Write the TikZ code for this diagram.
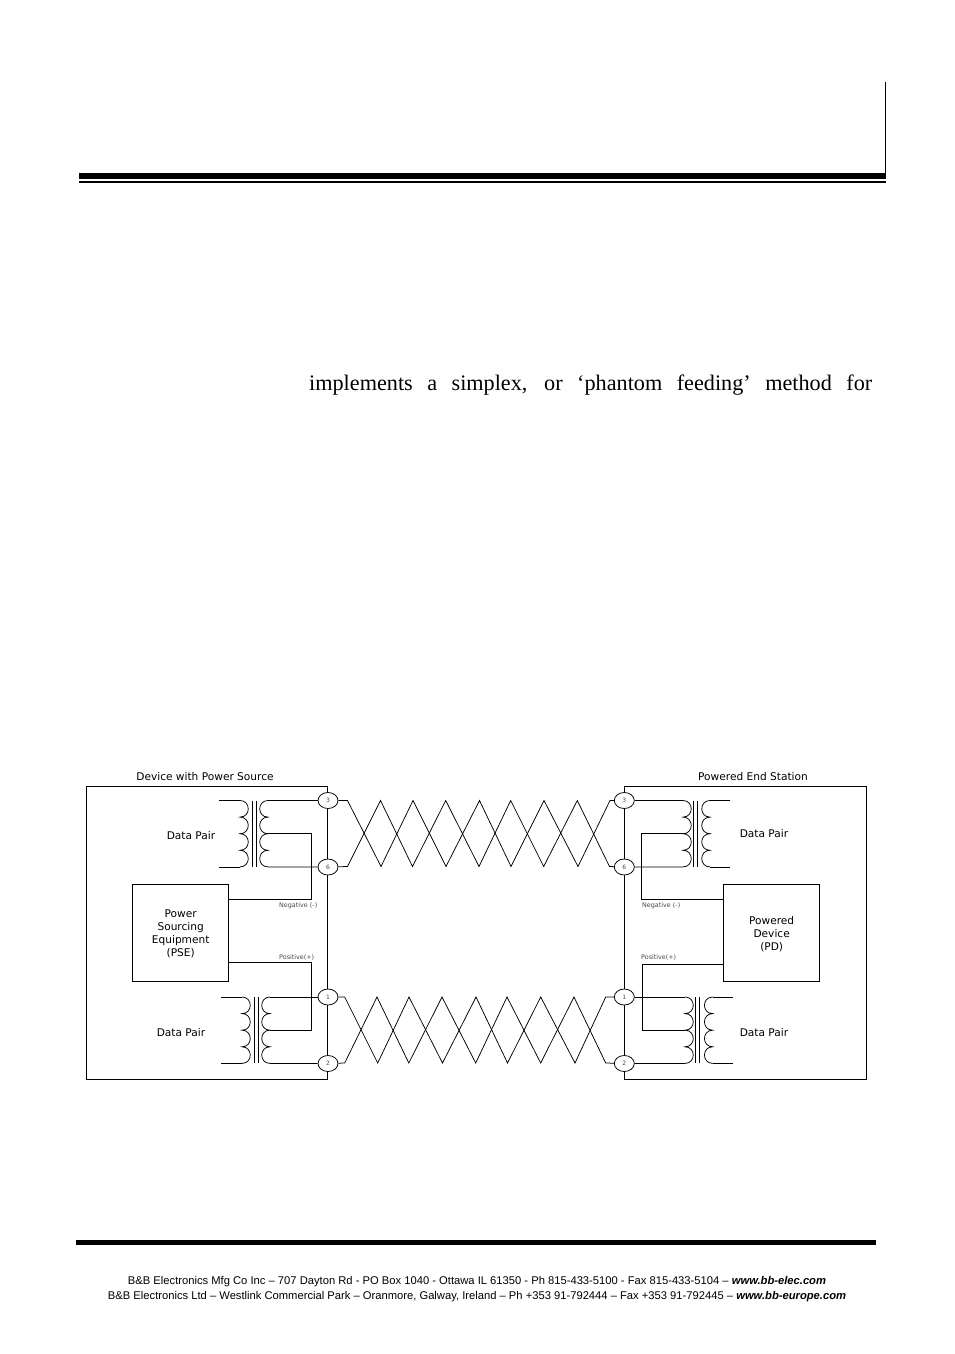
\documentclass[tikz,border=0pt]{standalone}
\usepackage{fontspec}
\setmainfont{DejaVu Sans}
\newfontfamily\footfont{Liberation Sans}
\newfontfamily\bodyfont{Liberation Serif}
\usetikzlibrary{shapes.geometric}
\tikzset{
	x=1pt,y=-1pt,
	wire/.style={line width=0.75pt},
	rulebar/.style={fill=black,draw=none},
	block/.style={draw,line width=0.75pt,minimum width=96pt,minimum height=97pt,anchor=north west,inner sep=0pt,align=center,font=\fontsize{10.6}{13}\selectfont},
	port/.style={draw,fill=white,ellipse,line width=0.75pt,minimum width=20pt,minimum height=16pt,inner sep=0pt,font=\fontsize{6}{6}\selectfont,text=black!70},
	lbl/.style={inner sep=0pt,font=\fontsize{10.6}{12}\selectfont},
	tiny/.style={inner sep=0pt,anchor=west,text=black!70,font=\fontsize{6.4}{7}\selectfont},
	foot/.style={inner sep=0pt,font=\fontsize{11.2}{13}\footfont}
}
% coil with four humps, #3 is +1 for a bulge to the right
\def\coil(#1,#2)[#3]{\draw[wire] (#1,#2) \foreach \k in {0,1,2,3} {.. controls ++(#3*11,0) and ++(#3*11,0) .. ++(0,16.6)};}
\begin{document}
\begin{tikzpicture}
	\useasboundingbox (0,0) rectangle (954,1354);
	\fill[white] (0,0) rectangle (954,1354);

	% page rules
	\draw[rulebar] (79,173) rectangle (886,179);
	\draw[rulebar] (79,181) rectangle (886,183.2);
	\draw[wire] (885.5,82) -- (885.5,173);
	\draw[rulebar] (76,1240) rectangle (876,1245);

	\node[inner sep=0pt,anchor=base west] at (309,390.5) {\fontsize{22.2}{25}\bodyfont\makebox[563pt][s]{implements a simplex, or ‘phantom feeding’ method for}};

	% the two housings
	\draw[wire] (86.5,786.5) rectangle (327.7,1079);
	\draw[wire] (624.3,786.5) rectangle (866.7,1079);
	\node[lbl] at (205,777) {Device with Power Source};
	\node[lbl] at (753,777) {Powered End Station};

	\node[block] (pse) at (132.3,884.3) {\\[-3pt]Power\\Sourcing\\Equipment\\(PSE)};
	\node[block] (pd) at (723.3,884.3) {\\[-3pt]Powered\\Device\\(PD)};

	% left side, upper transformer
	\draw[wire] (219,800.5) -- (240,800.5);
	\coil(240,800.5)[1]
	\draw[wire] (252.3,800.5) -- (252.3,866.5);
	\draw[wire] (256.7,800.5) -- (256.7,866.5);
	\coil(268,800.5)[-1]
	\draw[wire] (219,866.9) -- (240,866.9);
	\node[lbl] at (191,836) {Data Pair};

	% left side, lower transformer
	\draw[wire] (221,997) -- (242,997);
	\coil(242,997)[1]
	\draw[wire] (254,997) -- (254,1063);
	\draw[wire] (258.3,997) -- (258.3,1063);
	\coil(270,997)[-1]
	\node[lbl] at (181,1033) {Data Pair};
	\draw[wire] (221,1063.4) -- (242,1063.4);

	% right side, upper transformer
	\coil(683,800.5)[1]
	\draw[wire] (693.3,800.5) -- (693.3,866.5);
	\draw[wire] (697.3,800.5) -- (697.3,866.5);
	\coil(710,800.5)[-1]
	\draw[wire] (710,800.5) -- (730,800.5);
	\draw[wire] (710,866.9) -- (730,866.9);
	\node[lbl] at (764,834) {Data Pair};

	% right side, lower transformer
	\coil(685,997)[1]
	\draw[wire] (695.3,997) -- (695.3,1063);
	\draw[wire] (699.3,997) -- (699.3,1063);
	\coil(712.7,997)[-1]
	\draw[wire] (712.7,997) -- (732.7,997);
	\draw[wire] (712.7,1063.4) -- (732.7,1063.4);
	\node[lbl] at (764,1033) {Data Pair};

	% ports
	\node[port] (p3) at (328,800.5) {3};
	\node[port] (p6) at (328,867) {6};
	\node[port] (p1) at (328,997) {1};
	\node[port] (p2) at (328,1063.5) {2};
	\node[port] (q3) at (624.3,800.5) {3};
	\node[port] (q6) at (624.3,867) {6};
	\node[port] (q1) at (624.3,997) {1};
	\node[port] (q2) at (624.3,1063.5) {2};

	\draw[wire] (p3) -- (268,800.5);
	\draw[wire] (p6) -- (268,866.9);
	\draw[wire] (p1) -- (270,997);
	\draw[wire] (p2) -- (270,1063.4);
	\draw[wire] (q3) -- (683,800.5);
	\draw[wire] (q6) -- (683,866.9);
	\draw[wire] (q1) -- (685,997);
	\draw[wire] (q2) -- (685,1063.4);

	% power feed
	\draw[wire] (pse.east |- 0,899.3) -- (311.3,899.3) -- (311.3,833) -- (268,833);
	\draw[wire] (pse.east |- 0,962.3) -- (311.3,962.3) -- (311.3,1030) -- (270,1030);
	\draw[wire] (pd.west |- 0,899.3) -- (641.7,899.3) -- (641.7,833) -- (683,833);
	\draw[wire] (pd.west |- 0,964.3) -- (642.3,964.3) -- (642.3,1030) -- (685,1030);
	\node[tiny] at (279,905.5) {Negative (-)};
	\node[tiny] at (279,957) {Positive(+)};
	\node[tiny] at (642,905.5) {Negative (-)};
	\node[tiny] at (641,957) {Positive(+)};

	% twisted pairs
	\draw[wire] (p3) -- (347.5,800.5) -- (381,866.5) -- (413,800.5) -- (446,866.5) -- (479.5,800.5) -- (511,866.5) -- (544,800.5) -- (578,866.5) -- (610,800.5) -- (q3);
	\draw[wire] (p6) -- (347.5,866.5) -- (380.5,800.5) -- (412.5,866.5) -- (445.7,800.5) -- (479,866.5) -- (510.7,800.5) -- (543.7,866.5) -- (577.3,800.5) -- (609.5,866.5) -- (q6);
	\draw[wire] (p1) -- (344.7,997) -- (377.7,1063) -- (409,997) -- (442.5,1063) -- (476,997) -- (507.5,1063) -- (540.7,997) -- (575,1063) -- (605.7,997) -- (q1);
	\draw[wire] (p2) -- (344.7,1063) -- (377,997) -- (408.8,1063) -- (442,997) -- (475.7,1063) -- (507,997) -- (540.7,1063) -- (574,997) -- (605.7,1063) -- (q2);

	% footer
	\node[foot] at (477,1281.5) {B\&B Electronics Mfg Co Inc – 707 Dayton Rd - PO Box 1040 - Ottawa IL 61350 - Ph 815-433-5100 - Fax 815-433-5104 – \textbf{\textit{www.bb-elec.com}}};
	\node[foot] at (477,1297) {B\&B Electronics Ltd – Westlink Commercial Park – Oranmore, Galway, Ireland – Ph +353 91-792444 – Fax +353 91-792445 – \textbf{\textit{www.bb-europe.com}}};
\end{tikzpicture}
\end{document}
